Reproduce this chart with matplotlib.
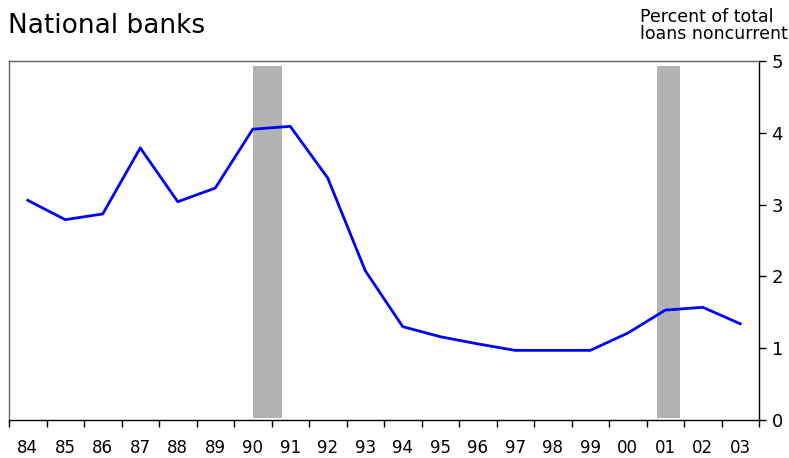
import matplotlib.pyplot as plt
import numpy as np

# Noncurrent loans, national banks (percent of total loans)
years = np.arange(1984, 2004)
year_labels = ['84', '85', '86', '87', '88', '89', '90', '91', '92', '93',
               '94', '95', '96', '97', '98', '99', '00', '01', '02', '03']
noncurrent = [3.06, 2.79, 2.87, 3.79, 3.04, 3.23, 4.05, 4.09, 3.37, 2.08,
              1.30, 1.16, 1.06, 0.97, 0.97, 0.97, 1.21, 1.53, 1.57, 1.34]

# Recession periods (fractional years)
rec_start = [1990.5, 2001.28]
rec_end = [1991.28, 2001.9]

plt.rcParams['font.family'] = ['DejaVu Sans']

fig = plt.figure(figsize=(7.89, 4.58), dpi=100)
ax = fig.add_axes([9 / 789, 38 / 458, 750 / 789, 359 / 458])

# recession shading
for s, e in zip(rec_start, rec_end):
    ax.fill_between([s, e], 0.03, 4.93, color='#b3b3b3', linewidth=0, zorder=1)

ax.plot(years + 0.5, noncurrent, color='#0000ff', linewidth=2.0, zorder=3)

ax.set_xlim(1984, 2004)
ax.set_ylim(0, 5)

# x axis: ticks on year boundaries, labels centered in each year
ax.set_xticks(np.arange(1984, 2005))
ax.set_xticklabels([])
ax.set_xticks(years + 0.5, minor=True)
ax.set_xticklabels(year_labels, minor=True)
ax.tick_params(axis='x', which='major', direction='out', length=5, width=1, color='black')
ax.tick_params(axis='x', which='minor', length=0, labelsize=12, pad=14)

# y axis on right
ax.yaxis.tick_right()
ax.set_yticks([0, 1, 2, 3, 4, 5])
ax.tick_params(axis='y', direction='out', length=5, width=1, labelsize=13, pad=4)

for side in ['top', 'left']:
    ax.spines[side].set_color('#606060')
    ax.spines[side].set_linewidth(1.0)
for side in ['bottom', 'right']:
    ax.spines[side].set_color('black')
    ax.spines[side].set_linewidth(1.0)

fig.text(8 / 789, 1 - 26 / 458, 'National banks', fontsize=19, ha='left', va='center')
fig.text(640 / 789, 1 - 8 / 458, 'Percent of total\nloans noncurrent', fontsize=12.5,
         ha='left', va='top', linespacing=0.95)

plt.savefig('out.png', dpi=100)
